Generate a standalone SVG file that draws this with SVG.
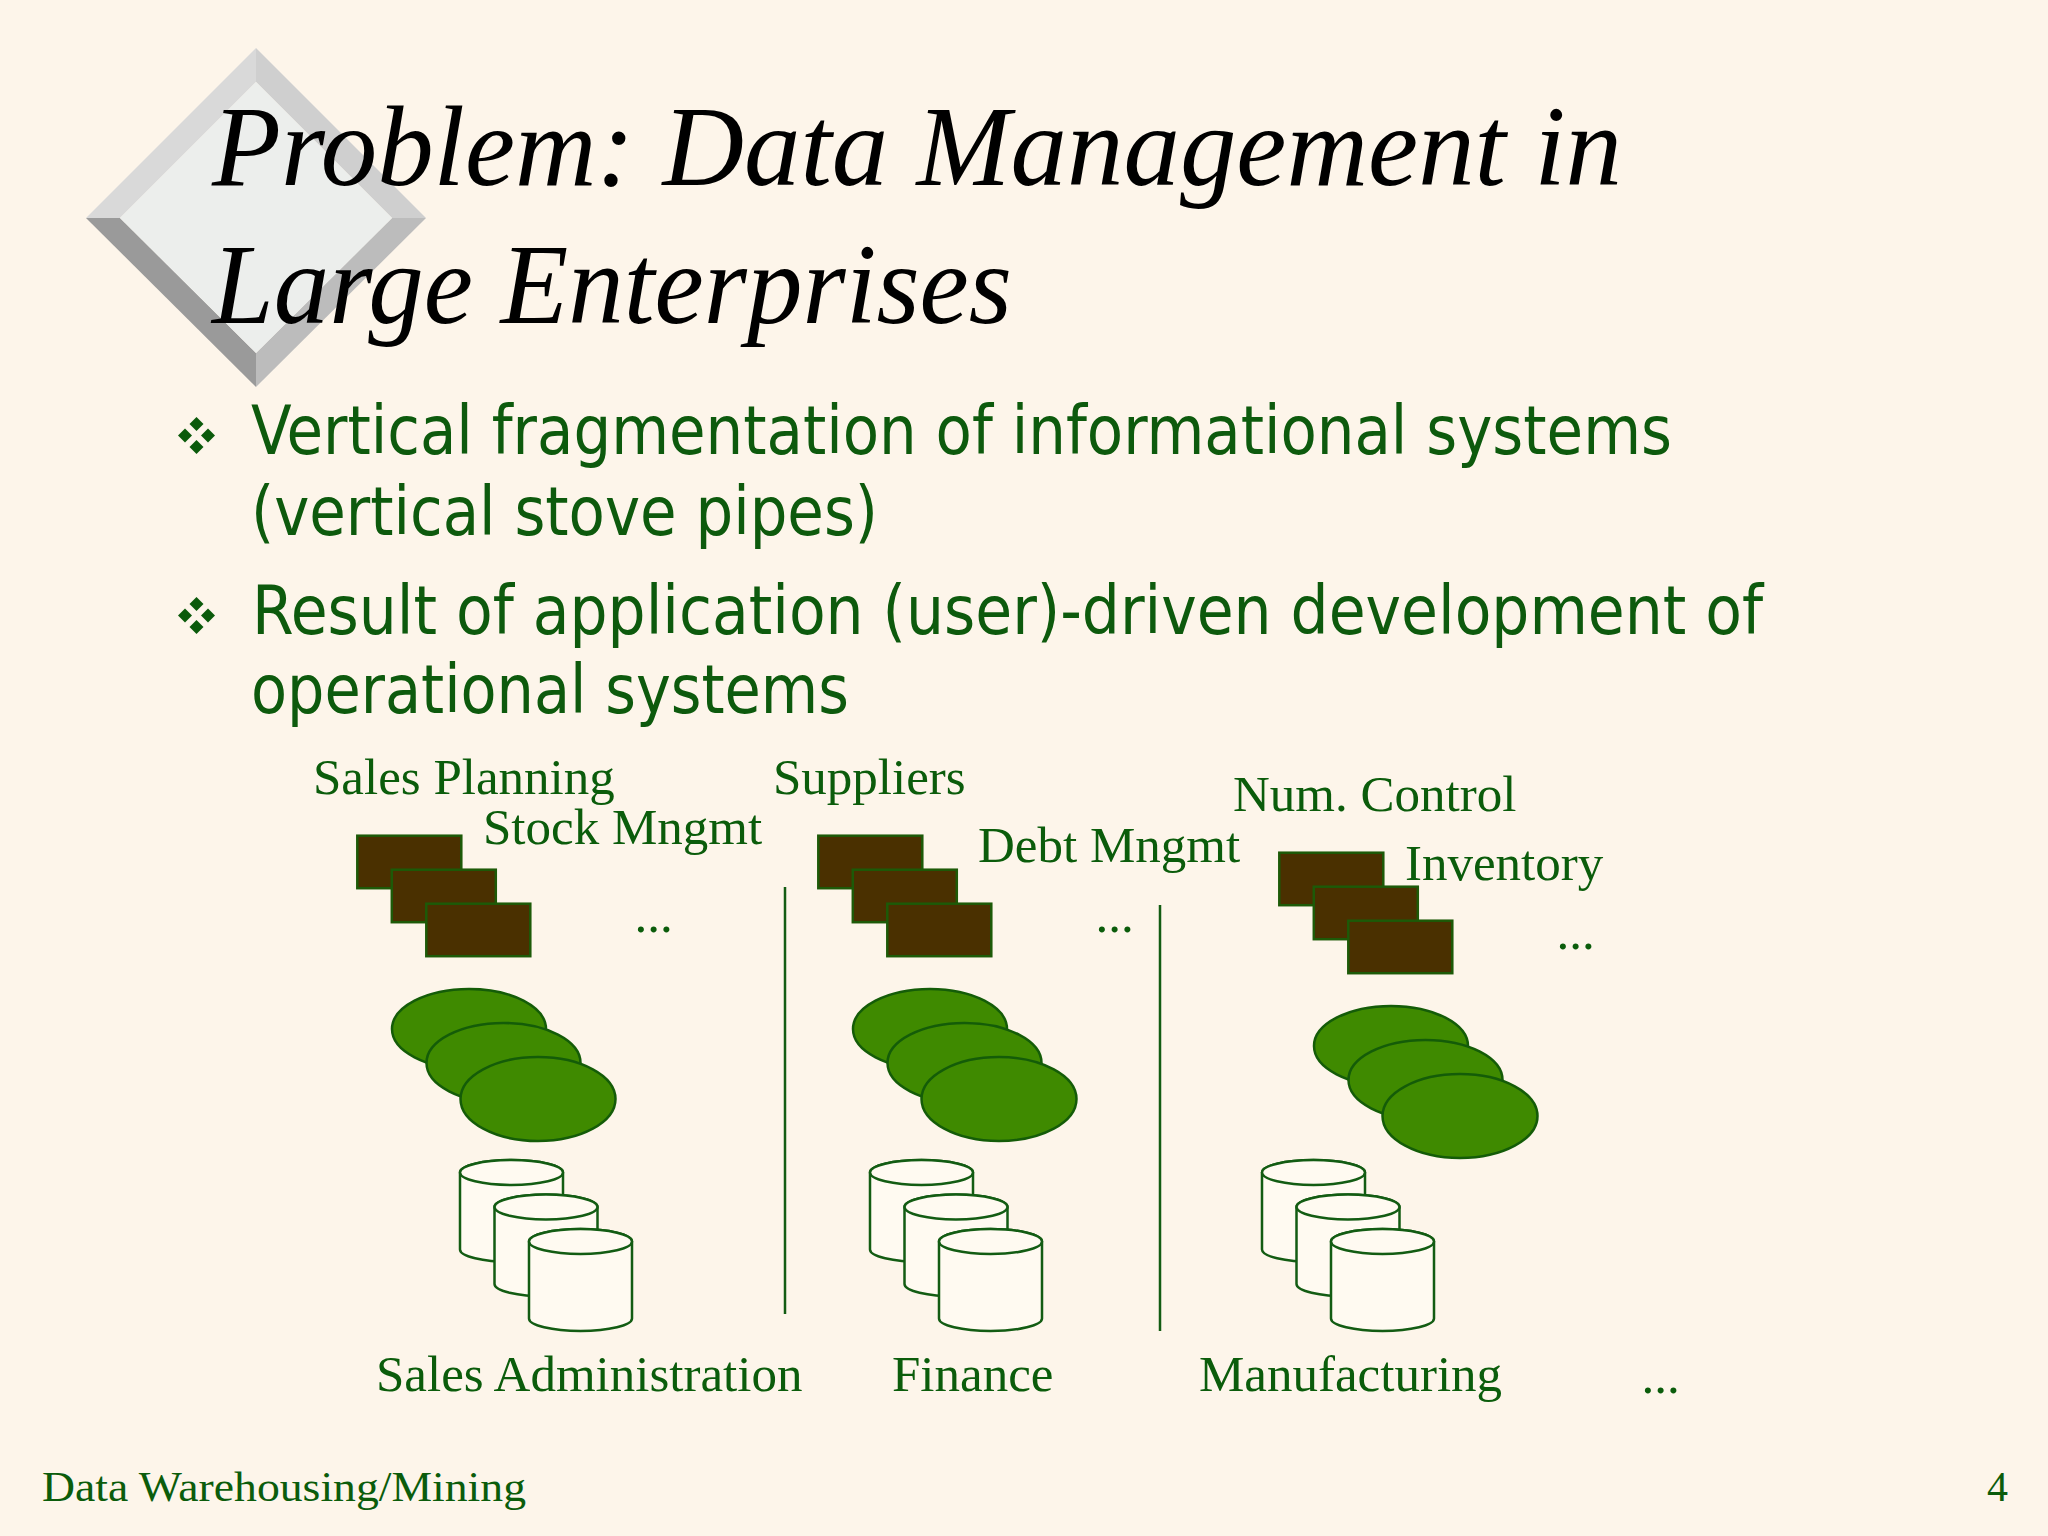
<svg xmlns="http://www.w3.org/2000/svg" xmlns:xlink="http://www.w3.org/1999/xlink" width="2048" height="1536" viewBox="0 0 2048 1536">
<style>
.title{font-family:"Liberation Serif","DejaVu Serif",serif;font-style:italic;font-size:115px;fill:#000}
.bul{font-family:"DejaVu Sans Condensed","DejaVu Sans",sans-serif;font-size:67px;fill:#0d5a0d}
.lbl{font-family:"Liberation Serif","Times New Roman",serif;font-size:51px;fill:#0b5c0b}
.foot{font-family:"Liberation Serif","Times New Roman",serif;font-size:42px;fill:#0b5c0b}
.app{fill:#4a3000;stroke:#1d5a08;stroke-width:2.5}
.db{fill:#3f8a00;stroke:#145c08;stroke-width:2.5}
.cyl{fill:#fffaf1;stroke:#135c13;stroke-width:2.5}
.sep{stroke:#135c13;stroke-width:2.5}
.bdot{fill:#0b5a0b}
</style>
<defs>
<g id="bulletGlyph">
<polygon class="bdot" points="0,-18.5 7,-11.5 0,-4.5 -7,-11.5"/>
<polygon class="bdot" points="-11.5,-7 -4.5,0 -11.5,7 -18.5,0"/>
<polygon class="bdot" points="11.5,-7 18.5,0 11.5,7 4.5,0"/>
<polygon class="bdot" points="0,4.5 7,11.5 0,18.5 -7,11.5"/>
</g>
<g id="appStack">
<rect class="app" x="0" y="0" width="104" height="52.5"/>
<rect class="app" x="34.5" y="34" width="104" height="52.5"/>
<rect class="app" x="69" y="68" width="104" height="52.5"/>
</g>
<g id="ellStack">
<ellipse class="db" cx="0" cy="0" rx="77" ry="40"/>
<ellipse class="db" cx="34.5" cy="34" rx="77" ry="40"/>
<ellipse class="db" cx="69" cy="70" rx="77.5" ry="42"/>
</g>
<g id="cylOne">
<path class="cyl" d="M0,12.5 A51.5,12.5 0 0 1 103,12.5 V89.5 A51.5,12.5 0 0 1 0,89.5 Z"/>
<ellipse class="cyl" cx="51.5" cy="12.5" rx="51.5" ry="12.5"/>
</g>
<g id="cylStack">
<use xlink:href="#cylOne" href="#cylOne"/>
<use xlink:href="#cylOne" href="#cylOne" transform="translate(34.5,34.5)"/>
<use xlink:href="#cylOne" href="#cylOne" transform="translate(69,69)"/>
</g>
</defs>

<rect width="2048" height="1536" fill="#fdf5ea"/>

<g id="logo-diamond">
<polygon points="86,218 256,48 256,82 120,218" fill="#d9d9d9"/>
<polygon points="256,48 426,218 392,218 256,82" fill="#cfcfcf"/>
<polygon points="426,218 256,387 256,353 392,218" fill="#bcbcbc"/>
<polygon points="256,387 86,218 120,218 256,353" fill="#9a9a9a"/>
<polygon points="256,82 392,218 256,353 120,218" fill="#eceeec"/>
</g>

<g id="title">
<text class="title" x="212" y="185" textLength="1410" lengthAdjust="spacingAndGlyphs">Problem: Data Management in</text>
<text class="title" x="212" y="323" textLength="800" lengthAdjust="spacingAndGlyphs">Large Enterprises</text>
</g>

<g id="bullet-1">
<use xlink:href="#bulletGlyph" href="#bulletGlyph" transform="translate(196.5,435.5)"/>
<text class="bul" x="251" y="454" textLength="1421" lengthAdjust="spacingAndGlyphs">Vertical fragmentation of informational systems</text>
<text class="bul" x="251" y="535" textLength="627" lengthAdjust="spacingAndGlyphs">(vertical stove pipes)</text>
</g>
<g id="bullet-2">
<use xlink:href="#bulletGlyph" href="#bulletGlyph" transform="translate(196.5,615.5)"/>
<text class="bul" x="252" y="634" textLength="1511" lengthAdjust="spacingAndGlyphs">Result of application (user)-driven development of</text>
<text class="bul" x="251" y="713" textLength="598" lengthAdjust="spacingAndGlyphs">operational systems</text>
</g>

<g id="sales-administration">
<text class="lbl" x="313" y="794">Sales Planning</text>
<text class="lbl" x="483" y="844">Stock Mngmt</text>
<use xlink:href="#appStack" href="#appStack" transform="translate(357.3,835.7)"/>
<text class="lbl" x="634.6" y="932">...</text>
<use xlink:href="#ellStack" href="#ellStack" transform="translate(469,1029)"/>
<use xlink:href="#cylStack" href="#cylStack" transform="translate(460,1160)"/>
<text class="lbl" x="376" y="1391">Sales Administration</text>
</g>

<g id="finance">
<text class="lbl" x="773" y="794">Suppliers</text>
<text class="lbl" x="978" y="862">Debt Mngmt</text>
<use xlink:href="#appStack" href="#appStack" transform="translate(818.3,835.7)"/>
<text class="lbl" x="1095.6" y="932">...</text>
<use xlink:href="#ellStack" href="#ellStack" transform="translate(930,1029)"/>
<use xlink:href="#cylStack" href="#cylStack" transform="translate(870,1160)"/>
<text class="lbl" x="892" y="1391">Finance</text>
</g>

<g id="manufacturing">
<text class="lbl" x="1233" y="811">Num. Control</text>
<text class="lbl" x="1405" y="880">Inventory</text>
<use xlink:href="#appStack" href="#appStack" transform="translate(1279.3,852.7)"/>
<text class="lbl" x="1556.6" y="949">...</text>
<use xlink:href="#ellStack" href="#ellStack" transform="translate(1391,1046)"/>
<use xlink:href="#cylStack" href="#cylStack" transform="translate(1262,1160)"/>
<text class="lbl" x="1199" y="1391">Manufacturing</text>
</g>

<g id="more-departments">
<text class="lbl" x="1641.6" y="1393">...</text>
</g>

<g id="connectors">
<line class="sep" x1="785" y1="887" x2="785" y2="1314"/>
<line class="sep" x1="1160" y1="905" x2="1160" y2="1331"/>
</g>

<g id="footer">
<text class="foot" x="42" y="1501" textLength="484" lengthAdjust="spacingAndGlyphs">Data Warehousing/Mining</text>
<text class="foot" x="1987" y="1501">4</text>
</g>
</svg>
